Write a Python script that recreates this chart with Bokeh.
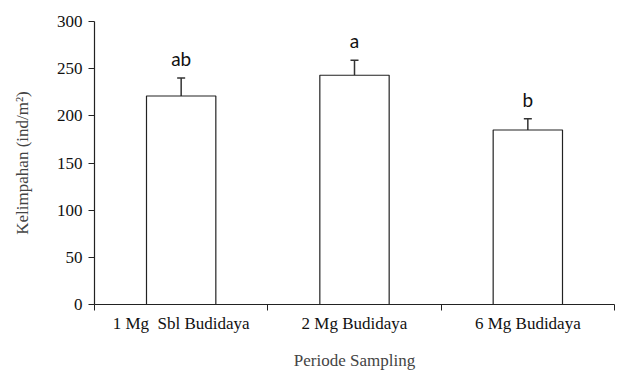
from bokeh.plotting import figure
from bokeh.models import ColumnDataSource, FixedTicker, Whisker, TeeHead
from bokeh.embed import file_html
from bokeh.resources import INLINE
from bokeh.core.properties import value

categories = ["1 Mg\u00a0 Sbl Budidaya", "2 Mg Budidaya", "6 Mg Budidaya"]
means = [221, 243, 185]
errors = [19, 16, 12]
letters = ["ab", "a", "b"]
y_ticks = [0, 50, 100, 150, 200, 250, 300]

xs = [i + 0.5 for i in range(len(categories))]
src = ColumnDataSource(dict(
    x=xs, top=means,
    upper=[m + e for m, e in zip(means, errors)],
    letter=letters,
))

p = figure(width=624, height=372, x_range=(0, 3), y_range=(0, 300),
           output_backend="svg", toolbar_location=None,
           min_border_left=94, min_border_right=10, min_border_top=21, min_border_bottom=68)
p.grid.visible = False
p.outline_line_color = None
p.background_fill_color = "white"
p.border_fill_color = "white"

p.vbar(x="x", top="top", width=0.4, bottom=0, source=src,
       fill_color="white", line_color="#222222", line_width=1.2)

w = Whisker(source=src, base="x", lower="top", upper="upper",
            line_color="#333333", line_width=1.5,
            upper_head=TeeHead(size=8, line_color="#333333", line_width=1.5),
            lower_head=None)
p.add_layout(w)

p.text(x="x", y="upper", text="letter", source=src, text_align="center",
       text_baseline="bottom", y_offset=-8, text_font=value("Lato"),
       text_font_size="19px", text_color="#111111")

# x axis
p.xaxis.ticker = FixedTicker(ticks=xs, minor_ticks=[0, 1, 2, 3])
p.xaxis.major_label_overrides = {x: c for x, c in zip(xs, categories)}
p.xaxis.major_tick_out = 0
p.xaxis.major_tick_in = 0
p.xaxis.minor_tick_out = 6
p.xaxis.minor_tick_in = 0
p.xaxis.minor_tick_line_color = "#222222"
p.xaxis.axis_line_color = "#222222"
p.xaxis.axis_line_width = 1.2
p.xaxis.major_label_text_font = "Liberation Serif"
p.xaxis.major_label_text_font_size = "17px"
p.xaxis.major_label_text_color = "#111111"
p.xaxis.major_label_standoff = 3
p.xaxis.axis_label = "Periode Sampling"
p.xaxis.axis_label_text_font = "Liberation Serif"
p.xaxis.axis_label_text_font_size = "17px"
p.xaxis.axis_label_text_font_style = "normal"
p.xaxis.axis_label_standoff = 15

# y axis
p.yaxis.ticker = FixedTicker(ticks=y_ticks)
p.yaxis.minor_tick_line_color = None
p.yaxis.major_tick_out = 6
p.yaxis.major_tick_in = 0
p.yaxis.major_tick_line_color = "#222222"
p.yaxis.axis_line_color = "#222222"
p.yaxis.axis_line_width = 1.2
p.yaxis.major_label_text_font = "Liberation Serif"
p.yaxis.major_label_text_font_size = "17px"
p.yaxis.major_label_text_color = "#111111"
p.yaxis.major_label_standoff = 6
p.yaxis.axis_label = "Kelimpahan (ind/m²)"
p.yaxis.axis_label_text_font = "Liberation Serif"
p.yaxis.axis_label_text_font_size = "17px"
p.yaxis.axis_label_text_font_style = "normal"
p.yaxis.axis_label_standoff = 22

open("out.html", "w").write(file_html(p, INLINE))
